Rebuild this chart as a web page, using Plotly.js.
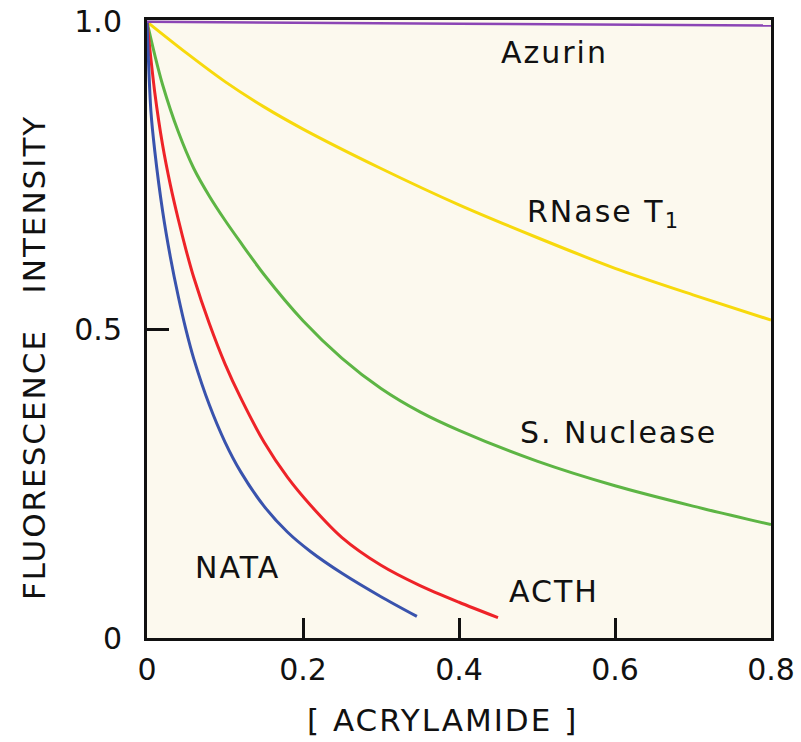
<!DOCTYPE html>
<html>
<head>
<meta charset="utf-8">
<script src="https://cdn.plot.ly/plotly-3.0.1.min.js"></script>
<style>
html,body{margin:0;padding:0;background:#fff;}
#chart{width:801px;height:742px;}
g.annotation text{letter-spacing:2px;}
</style>
</head>
<body>
<div id="chart"></div>
<script>
// ---- data ----
const seriesNames = ["Azurin", "RNase T<sub>1</sub>", "S. Nuclease", "ACTH", "NATA"];

const azurinX = [0, 0.4, 0.8];
const azurinY = [1.0, 0.997, 0.994];

const rnaseX = [0, 0.05, 0.10, 0.15, 0.20, 0.30, 0.40, 0.50, 0.60, 0.70, 0.80];
const rnaseY = [1.0, 0.950, 0.903, 0.862, 0.826, 0.762, 0.703, 0.650, 0.600, 0.557, 0.516];

const nucleaseX = [0, 0.01, 0.02, 0.04, 0.06, 0.08, 0.10, 0.12, 0.15, 0.20, 0.25, 0.30, 0.35, 0.40, 0.50, 0.60, 0.70, 0.80];
const nucleaseY = [1.0, 0.946, 0.898, 0.822, 0.762, 0.717, 0.678, 0.642, 0.590, 0.515, 0.454, 0.405, 0.367, 0.337, 0.287, 0.247, 0.214, 0.184];

const acthX = [0, 0.01, 0.02, 0.03, 0.04, 0.05, 0.06, 0.08, 0.10, 0.12, 0.15, 0.18, 0.21, 0.25, 0.30, 0.35, 0.40, 0.45];
const acthY = [1.0, 0.885, 0.800, 0.735, 0.680, 0.630, 0.585, 0.510, 0.445, 0.390, 0.318, 0.261, 0.215, 0.163, 0.118, 0.085, 0.058, 0.033];

const nataX = [0, 0.005, 0.01, 0.02, 0.03, 0.04, 0.05, 0.06, 0.08, 0.10, 0.12, 0.15, 0.18, 0.21, 0.25, 0.30, 0.346];
const nataY = [1.0, 0.855, 0.790, 0.693, 0.618, 0.555, 0.500, 0.453, 0.378, 0.318, 0.270, 0.214, 0.172, 0.140, 0.105, 0.067, 0.035];

const xTickVals = [0, 0.2, 0.4, 0.6, 0.8];
const xTickText = ["0", "0.2", "0.4", "0.6", "0.8"];
const xInnerTicks = [0.2, 0.4, 0.6];
const yTickVals = [0, 0.5, 1.0];
const yTickText = ["0", "0.5", "1.0"];
const yInnerTicks = [0.5];

const xTitle = "[ ACRYLAMIDE ]";
const yTitle = "FLUORESCENCE\u00a0\u00a0 INTENSITY";

// ---- styling ----
const FONT = "DejaVu Sans, Liberation Sans, sans-serif";
const X_RANGE = [0, 0.8];
const Y_RANGE = [0, 1.003];

function line(x, y, color, w, xa, ya) {
  return {x: x, y: y, type: "scatter", mode: "lines", xaxis: xa || "x", yaxis: ya || "y",
          line: {color: color, width: w, shape: "spline", smoothing: 0.8},
          hoverinfo: "skip", showlegend: false};
}

const traces = [
  line(azurinX, azurinY, "#8b45b5", 2.5, "x2", "y2"),
  line(rnaseX, rnaseY, "#f7d90c", 3),
  line(nucleaseX, nucleaseY, "#5db544", 3),
  line(acthX, acthY, "#ee2328", 3),
  line(nataX, nataY, "#3953ad", 3)
];

const labelPos = [
  {x: 0.523, y: 0.951},
  {x: 0.585, y: 0.689},
  {x: 0.604, y: 0.334},
  {x: 0.522, y: 0.075},
  {x: 0.117, y: 0.115}
];

const annotations = seriesNames.map((t, i) => ({
  x: labelPos[i].x, y: labelPos[i].y, xref: "x", yref: "y",
  text: t, showarrow: false, xanchor: "center", yanchor: "middle",
  font: {family: FONT, size: 30, color: "#111"}
}));

annotations.push({
  x: 0.4735, y: -0.133, xref: "paper", yref: "paper",
  text: xTitle, showarrow: false, xanchor: "center", yanchor: "middle",
  font: {family: FONT, size: 31, color: "#111"}
});
annotations.push({
  x: -0.181, y: 0.453, xref: "paper", yref: "paper",
  text: yTitle, showarrow: false, textangle: -90, xanchor: "center", yanchor: "middle",
  font: {family: FONT, size: 31, color: "#111"}
});

const layout = {
  width: 801, height: 742,
  margin: {l: 147, r: 30, t: 20, b: 104, pad: 0},
  paper_bgcolor: "#ffffff",
  plot_bgcolor: "#fcf9ee",
  showlegend: false,
  xaxis: {
    range: X_RANGE, tickvals: xTickVals, ticktext: xTickText,
    ticks: "", showline: true, linecolor: "#111", linewidth: 3, mirror: true,
    showgrid: false, zeroline: false, ticklabelstandoff: 3,
    tickfont: {family: FONT, size: 30, color: "#111"}
  },
  yaxis: {
    range: Y_RANGE, tickvals: yTickVals, ticktext: yTickText,
    ticks: "", showline: true, linecolor: "#111", linewidth: 3, mirror: true,
    showgrid: false, zeroline: false, ticklabelstandoff: 16,
    tickfont: {family: FONT, size: 30, color: "#111"}
  },
  xaxis2: {
    range: X_RANGE, overlaying: "x", anchor: "y", side: "bottom",
    tickvals: xInnerTicks, showticklabels: false,
    ticks: "inside", ticklen: 20, tickwidth: 3, tickcolor: "#111",
    showline: false, showgrid: false, zeroline: false
  },
  yaxis2: {
    range: Y_RANGE, overlaying: "y", anchor: "x", side: "left",
    tickvals: yInnerTicks, showticklabels: false,
    ticks: "inside", ticklen: 22, tickwidth: 3, tickcolor: "#111",
    showline: false, showgrid: false, zeroline: false
  },
  annotations: annotations
};

Plotly.newPlot("chart", traces, layout, {displayModeBar: false, staticPlot: true});
</script>
</body>
</html>
